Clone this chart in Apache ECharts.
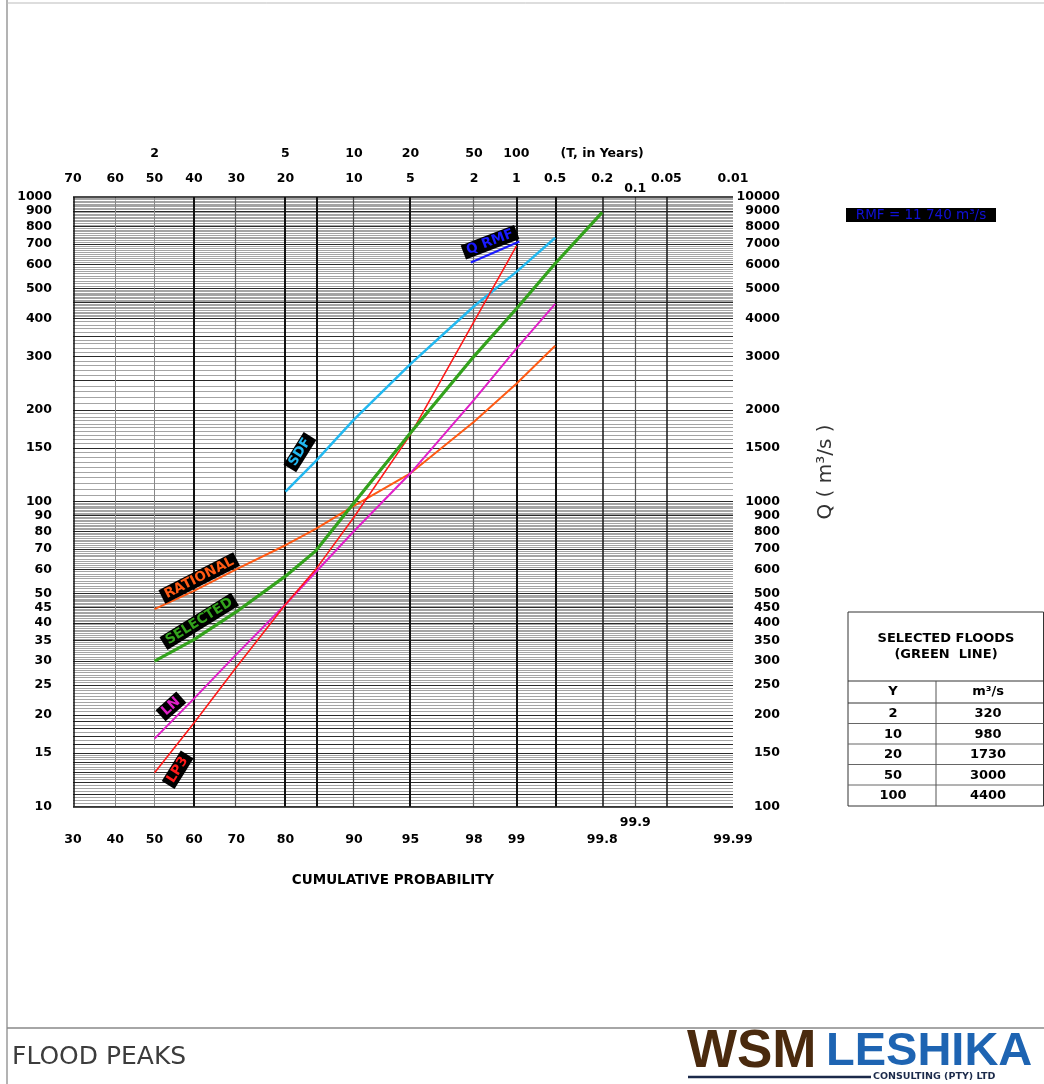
<!DOCTYPE html>
<html>
<head>
<meta charset="utf-8">
<script src="https://cdn.jsdelivr.net/npm/echarts@6/dist/echarts.min.js"></script>
<style>
html,body{margin:0;padding:0;background:#fff;}
#chart{width:1044px;height:1084px;}
</style>
</head>
<body>
<div id="chart"></div>
<script>
// ---------- DATA (probabilities in %, discharge on left axis scale) ----------
const lp3P = [50, 60, 70, 80, 85, 90, 95, 98, 99];
const lp3Q = [12.9, 18.8, 28.6, 46, 60, 89, 166, 390, 690];

const lnP = [50, 60, 70, 80, 90, 95, 98, 99, 99.5];
const lnQ = [16.7, 22.6, 31.5, 46, 80, 124, 216, 318, 446];

const selP = [50, 60, 70, 80, 85, 90, 95, 98, 99, 99.5, 99.8];
const selQ = [30, 35.3, 43.5, 57, 69, 99, 168, 300, 430, 605, 890];

const ratP = [50, 60, 70, 80, 85, 90, 95, 98, 99, 99.5];
const ratQ = [44.4, 51, 60, 72, 81.5, 97, 124, 183, 244, 325];

const sdfP = [80, 85, 90, 95, 98, 99, 99.5];
const sdfQ = [108, 136, 186, 283, 438, 568, 735];

const rmfP = [97.9, 99.05];
const rmfQ = [610, 715];

// tick labels
const bottomProbs = [30, 40, 50, 60, 70, 80, 90, 95, 98, 99, 99.8, 99.99];
const bottomLabels = ['30', '40', '50', '60', '70', '80', '90', '95', '98', '99', '99.8', '99.99'];
const bottomProbs2 = [99.9];
const bottomLabels2 = ['99.9'];
const topTProbs = [50, 80, 90, 95, 98, 99, 99.8];
const topTLabels = ['2', '5', '10', '20', '50', '100', '(T, in Years)'];
const topEProbs = [30, 40, 50, 60, 70, 80, 90, 95, 98, 99, 99.5, 99.8, 99.95, 99.99];
const topELabels = ['70', '60', '50', '40', '30', '20', '10', '5', '2', '1', '0.5', '0.2', '0.05', '0.01'];
const topEProbs2 = [99.9];
const topELabels2 = ['0.1'];
const leftTicks = [10, 15, 20, 25, 30, 35, 40, 45, 50, 60, 70, 80, 90, 100, 150, 200, 300, 400, 500, 600, 700, 800, 900, 1000];
const rightTicks = [100, 150, 200, 250, 300, 350, 400, 450, 500, 600, 700, 800, 900, 1000, 1500, 2000, 3000, 4000, 5000, 6000, 7000, 8000, 9000, 10000];

// table
const tableYears = ['2', '10', '20', '50', '100'];
const tableFlows = ['320', '980', '1730', '3000', '4400'];

// curve labels: text, prob, value, angle, colour
const curveLabels = [
  ['RATIONAL', 61.3, 56.2, 27, '#ff5a14'],
  ['SELECTED', 61.3, 40.5, 32, '#33a21c'],
  ['LN', 54.2, 21.3, 42, '#e020c8'],
  ['LP3', 55.9, 13.2, 58, '#ff1a1a'],
  ['SDF', 82.5, 145.4, 58, '#22b8f0'],
  ['Q RMF', 98.45, 711, 21, '#1a1aff']
];

// ---------- probability scale helper ----------
function normInv(p) {
  const a = [-3.969683028665376e+01, 2.209460984245205e+02, -2.759285104469687e+02, 1.383577518672690e+02, -3.066479806614716e+01, 2.506628277459239e+00];
  const b = [-5.447609879822406e+01, 1.615858368580409e+02, -1.556989798598866e+02, 6.680131188771972e+01, -1.328068155288572e+01];
  const c = [-7.784894002430293e-03, -3.223964580411365e-01, -2.400758277161838e+00, -2.549732539343734e+00, 4.374664141464968e+00, 2.938163982698783e+00];
  const d = [7.784695709041462e-03, 3.224671290700398e-01, 2.445134137142996e+00, 3.754408661907416e+00];
  const pl = 0.02425, ph = 1 - pl;
  let q, r;
  if (p < pl) {
    q = Math.sqrt(-2 * Math.log(p));
    return (((((c[0]*q+c[1])*q+c[2])*q+c[3])*q+c[4])*q+c[5]) / ((((d[0]*q+d[1])*q+d[2])*q+d[3])*q+1);
  }
  if (p <= ph) {
    q = p - 0.5; r = q * q;
    return (((((a[0]*r+a[1])*r+a[2])*r+a[3])*r+a[4])*r+a[5])*q / (((((b[0]*r+b[1])*r+b[2])*r+b[3])*r+b[4])*r+1);
  }
  q = Math.sqrt(-2 * Math.log(1 - p));
  return -(((((c[0]*q+c[1])*q+c[2])*q+c[3])*q+c[4])*q+c[5]) / ((((d[0]*q+d[1])*q+d[2])*q+d[3])*q+1);
}
const zOf = p => normInv(p / 100);
const ZMIN = zOf(30), ZMAX = zOf(99.99);

function fmtFor(probs, labels) {
  const zs = probs.map(zOf);
  return function (v) {
    for (let i = 0; i < zs.length; i++) if (Math.abs(zs[i] - v) < 1e-6) return labels[i];
    return '';
  };
}

const labelFont = { fontFamily: 'DejaVu Sans', fontWeight: 'bold', fontSize: 12.5, color: '#000' };

function xAx(position, probs, labels, margin) {
  return {
    type: 'value', position, min: ZMIN, max: ZMAX,
    axisLine: { show: false }, axisTick: { show: false }, splitLine: { show: false },
    axisLabel: Object.assign({ customValues: probs.map(zOf), formatter: fmtFor(probs, labels), margin, showMinLabel: true, showMaxLabel: true, hideOverlap: false }, labelFont)
  };
}

// ---------- grid lines ----------
const thinH = [];
function addRange(from, to, step, arr) {
  const n = Math.round((to - from) / step);
  for (let i = 0; i < n; i++) arr.push(from + i * step);
}
addRange(10, 15, 0.25, thinH);
addRange(15, 50, 0.5, thinH);
addRange(50, 100, 1, thinH);
addRange(100, 200, 5, thinH);
addRange(200, 400, 10, thinH);
addRange(400, 500, 5, thinH);
addRange(500, 1000, 10, thinH);
const darkSet = [11, 12, 13, 14, 15, 16, 17, 18, 19, 20, 25, 30, 35, 40, 45, 50, 60, 70, 80, 90, 100, 150, 200, 250, 300, 350, 400, 450, 500, 600, 700, 800, 900];
const vLines = [
  [40, '#888', 1], [50, '#888', 1], [60, '#111', 2], [70, '#555', 1.2], [80, '#111', 2], [85, '#111', 2],
  [90, '#444', 1.2], [95, '#111', 2], [98, '#666', 1.2], [99, '#111', 2], [99.5, '#111', 2],
  [99.8, '#222', 1.6], [99.9, '#555', 1.2], [99.95, '#222', 1.6]
];
const gridMarks = [];
thinH.forEach(v => gridMarks.push({ yAxis: v, lineStyle: { color: '#a4a4a4', width: 1, type: 'solid' } }));
darkSet.forEach(v => gridMarks.push({ yAxis: v, lineStyle: { color: '#2a2a2a', width: 1, type: 'solid' } }));
vLines.forEach(l => gridMarks.push({ xAxis: zOf(l[0]), lineStyle: { color: l[1], width: l[2], type: 'solid' } }));
// frame
gridMarks.push({ yAxis: 10, lineStyle: { color: '#111', width: 1.5, type: 'solid' } });
gridMarks.push({ yAxis: 1000, lineStyle: { color: '#111', width: 1.5, type: 'solid' } });
gridMarks.push({ xAxis: ZMIN, lineStyle: { color: '#111', width: 1.5, type: 'solid' } });
gridMarks.push({ xAxis: ZMAX, lineStyle: { color: '#111', width: 1.5, type: 'solid' } });

function curve(name, P, Q, color, width) {
  return {
    type: 'line', name, xAxisIndex: 0, yAxisIndex: 0,
    data: P.map((p, i) => [zOf(p), Q[i]]),
    showSymbol: false, symbol: 'none', silent: true, z: 5,
    lineStyle: { color, width }
  };
}

const chart = echarts.init(document.getElementById('chart'), null, { renderer: 'canvas' });
chart.setOption({
  animation: false,
  backgroundColor: '#fff',
  grid: { left: 73, right: 311, top: 197, bottom: 277.5, containLabel: false },
  xAxis: [
    xAx('bottom', bottomProbs, bottomLabels, 27),
    xAx('bottom', bottomProbs2, bottomLabels2, 10),
    xAx('top', topTProbs, topTLabels, 37),
    xAx('top', topEProbs, topELabels, 12),
    xAx('top', topEProbs2, topELabels2, 2)
  ],
  yAxis: [
    {
      type: 'log', logBase: 10, min: 10, max: 1000, position: 'left',
      axisLine: { show: false }, axisTick: { show: false }, splitLine: { show: false }, minorTick: { show: false },
      axisLabel: Object.assign({ customValues: leftTicks, margin: 21, formatter: v => String(Math.round(v)), showMinLabel: true, showMaxLabel: true, hideOverlap: false }, labelFont)
    },
    {
      type: 'log', logBase: 10, min: 100, max: 10000, position: 'right',
      axisLine: { show: false }, axisTick: { show: false }, splitLine: { show: false }, minorTick: { show: false },
      axisLabel: Object.assign({ customValues: rightTicks, margin: 47, align: 'right', formatter: v => String(Math.round(v)), showMinLabel: true, showMaxLabel: true, hideOverlap: false }, labelFont)
    }
  ],
  series: [
    {
      type: 'line', xAxisIndex: 0, yAxisIndex: 0, data: [[ZMIN, 10]], showSymbol: false, symbol: 'none',
      lineStyle: { opacity: 0 }, silent: true, z: 1,
      markLine: { silent: true, symbol: ['none', 'none'], label: { show: false }, animation: false, data: gridMarks }
    },
    curve('RATIONAL', ratP, ratQ, '#ff5a14', 2),
    curve('SDF', sdfP, sdfQ, '#22b8f0', 2.5),
    curve('LN', lnP, lnQ, '#e020c8', 2),
    curve('LP3', lp3P, lp3Q, '#ff1a1a', 1.6),
    curve('SELECTED', selP, selQ, '#33a21c', 3.2),
    curve('Q RMF', rmfP, rmfQ, '#1a1aff', 2.2)
  ]
});

// ---------- annotations ----------
const els = [];
curveLabels.forEach(l => {
  const pt = chart.convertToPixel({ xAxisIndex: 0, yAxisIndex: 0 }, [zOf(l[1]), l[2]]);
  els.push({
    type: 'text', x: pt[0], y: pt[1], rotation: l[3] * Math.PI / 180, z: 20,
    style: { text: l[0], fill: l[4], font: 'bold 13.5px "DejaVu Sans"', align: 'center', verticalAlign: 'middle', backgroundColor: '#000', padding: [1, 4, 0, 4] }
  });
});
// RMF box
els.push({ type: 'rect', shape: { x: 846, y: 208, width: 150, height: 14 }, style: { fill: '#000' }, z: 20 });
els.push({ type: 'text', x: 921, y: 215.5, z: 21, style: { text: 'RMF = 11 740 m³/s', fill: '#1010d8', font: '13.5px "DejaVu Sans"', align: 'center', verticalAlign: 'middle' } });
// Q axis name
els.push({ type: 'text', x: 826, y: 472, rotation: Math.PI / 2, z: 20, style: { text: 'Q ( m³/s )', fill: '#333', font: '20px "DejaVu Sans"', align: 'center', verticalAlign: 'middle' } });
// x axis title
els.push({ type: 'text', x: 393, y: 880, z: 20, style: { text: 'CUMULATIVE PROBABILITY', fill: '#000', font: 'bold 13.5px "DejaVu Sans"', align: 'center', verticalAlign: 'middle' } });
// table
const tL = 848, tR = 1043.5, tT = 612, tB = 806, colX = 936;
const rowY = [681, 703, 723.5, 744, 764.5, 785, 806];
els.push({ type: 'rect', shape: { x: tL, y: tT, width: tR - tL, height: tB - tT }, style: { fill: 'none', stroke: '#333', lineWidth: 1 }, z: 20 });
rowY.slice(0, 6).forEach((y, i) => els.push({ type: 'line', shape: { x1: tL, y1: y, x2: tR, y2: y }, style: { stroke: i < 2 ? '#333' : '#666', lineWidth: 1 }, z: 20 }));
els.push({ type: 'line', shape: { x1: colX, y1: rowY[0], x2: colX, y2: tB }, style: { stroke: '#555', lineWidth: 1 }, z: 20 });
const tf = 'bold 13px "DejaVu Sans"';
els.push({ type: 'text', x: 946, y: 639, z: 21, style: { text: 'SELECTED FLOODS', fill: '#000', font: tf, align: 'center', verticalAlign: 'middle' } });
els.push({ type: 'text', x: 946, y: 655, z: 21, style: { text: '(GREEN  LINE)', fill: '#000', font: tf, align: 'center', verticalAlign: 'middle' } });
els.push({ type: 'text', x: 893, y: 692, z: 21, style: { text: 'Y', fill: '#000', font: tf, align: 'center', verticalAlign: 'middle' } });
els.push({ type: 'text', x: 988, y: 692, z: 21, style: { text: 'm³/s', fill: '#000', font: tf, align: 'center', verticalAlign: 'middle' } });
tableYears.forEach((yr, i) => {
  const cy = (rowY[i + 1] + rowY[i + 2]) / 2 + 0.5;
  els.push({ type: 'text', x: 893, y: cy, z: 21, style: { text: yr, fill: '#000', font: tf, align: 'center', verticalAlign: 'middle' } });
  els.push({ type: 'text', x: 988, y: cy, z: 21, style: { text: tableFlows[i], fill: '#000', font: tf, align: 'center', verticalAlign: 'middle' } });
});
// page frame
els.push({ type: 'line', shape: { x1: 7, y1: 0, x2: 7, y2: 1084 }, style: { stroke: '#9a9a9a', lineWidth: 1.5 }, z: 20 });
els.push({ type: 'line', shape: { x1: 7, y1: 3, x2: 1044, y2: 3 }, style: { stroke: '#bbb', lineWidth: 1 }, z: 20 });
els.push({ type: 'line', shape: { x1: 7, y1: 1028, x2: 1044, y2: 1028 }, style: { stroke: '#888', lineWidth: 1.5 }, z: 20 });
// footer
els.push({ type: 'text', x: 12, y: 1057, z: 21, style: { text: 'FLOOD PEAKS', fill: '#3c3c3c', font: '25px "DejaVu Sans"', align: 'left', verticalAlign: 'middle' } });
els.push({ type: 'text', x: 687, y: 1052, z: 21, style: { text: 'WSM', fill: '#4a2a0e', font: 'bold 53px "Liberation Sans"', align: 'left', verticalAlign: 'middle' } });
els.push({ type: 'text', x: 826, y: 1052, z: 21, style: { text: 'LESHIKA', fill: '#1e64b2', font: 'bold 47px "Liberation Sans"', align: 'left', verticalAlign: 'middle' } });
els.push({ type: 'line', shape: { x1: 688, y1: 1077, x2: 871, y2: 1077 }, style: { stroke: '#1b2a4a', lineWidth: 2.5 }, z: 21 });
els.push({ type: 'text', x: 873, y: 1077, z: 21, style: { text: 'CONSULTING (PTY) LTD', fill: '#1b2a4a', font: 'bold 9.5px "DejaVu Sans"', align: 'left', verticalAlign: 'middle' } });

chart.setOption({ graphic: { elements: els } });
</script>
</body>
</html>
